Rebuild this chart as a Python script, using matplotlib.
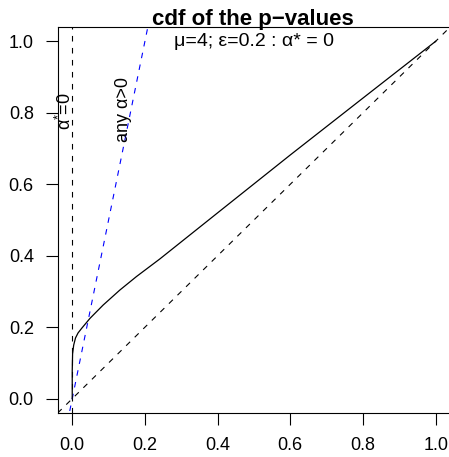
import matplotlib

matplotlib.use("Agg")
import matplotlib.pyplot as plt

plt.rcParams["font.family"] = ["Liberation Sans", "DejaVu Sans"]
plt.rcParams["mathtext.fontset"] = "custom"
plt.rcParams["mathtext.rm"] = "Liberation Sans"
plt.rcParams["mathtext.it"] = "Liberation Sans:italic"

# cdf of the p-values
p_vals = [0, 0, 0.001, 0.004, 0.009, 0.016, 0.026, 0.049, 0.085, 0.131,
          0.177, 0.241, 0.4, 0.6, 0.796, 1.0]
cdf_vals = [0, 0.079, 0.126, 0.150, 0.170, 0.184, 0.197, 0.225, 0.262, 0.304,
            0.342, 0.391, 0.520, 0.682, 0.838, 1.0]

# reference lines y = a + b*x
diag_line = (0.0, 1.0)
alpha_line = (0.0, 5.0)
alpha_star_x = 0.0

ticks = [0.0, 0.2, 0.4, 0.6, 0.8, 1.0]
tick_labels = ["0.0", "0.2", "0.4", "0.6", "0.8", "1.0"]

W, H = 449, 457
fig = plt.figure(figsize=(W / 100, H / 100), dpi=100)
ax = fig.add_axes([57.7 / W, (H - 413) / H, (450.2 - 57.7) / W, (413 - 27) / H])
ax.set_xlim(-0.04, 1.04)
ax.set_ylim(-0.04, 1.04)

lw = 0.8
dash = (5, 5.8)
xs = [-0.04, 1.04]

ax.plot([alpha_star_x, alpha_star_x], [-0.04, 1.04], color="black", lw=lw,
        dashes=dash)
ax.plot(xs, [diag_line[0] + diag_line[1] * x for x in xs], color="black",
        lw=lw, dashes=dash)
ax.plot(xs, [alpha_line[0] + alpha_line[1] * x for x in xs], color="#0000FF",
        lw=lw, dashes=dash)
ax.plot(p_vals, cdf_vals, color="black", lw=lw + 0.1, solid_joinstyle="round")

ax.text(0.5, 1.0, "μ=4; ε=0.2 : α* = 0", ha="center", va="center", fontsize=14)
ax.text(-0.02, 0.805, r"α$^{*}$=0", rotation=90, ha="center", va="center",
        fontsize=13)
ax.text(0.14, 0.81, "any α>0", rotation=90, ha="center", va="center",
        fontsize=13)

fig.text(253 / W, (H - 25) / H, "cdf of the p−values", ha="center",
         va="baseline", fontsize=16, fontweight="bold")

ax.set_xticks(ticks)
ax.set_xticklabels(tick_labels)
ax.set_yticks(ticks)
ax.set_yticklabels(tick_labels)
ax.tick_params(axis="both", direction="out", length=8.6, width=0.8,
               labelsize=13)
ax.tick_params(axis="x", pad=9)
ax.tick_params(axis="y", pad=8.6)
for s in ax.spines.values():
    s.set_linewidth(0.8)

fig.savefig("out.png", dpi=100)
